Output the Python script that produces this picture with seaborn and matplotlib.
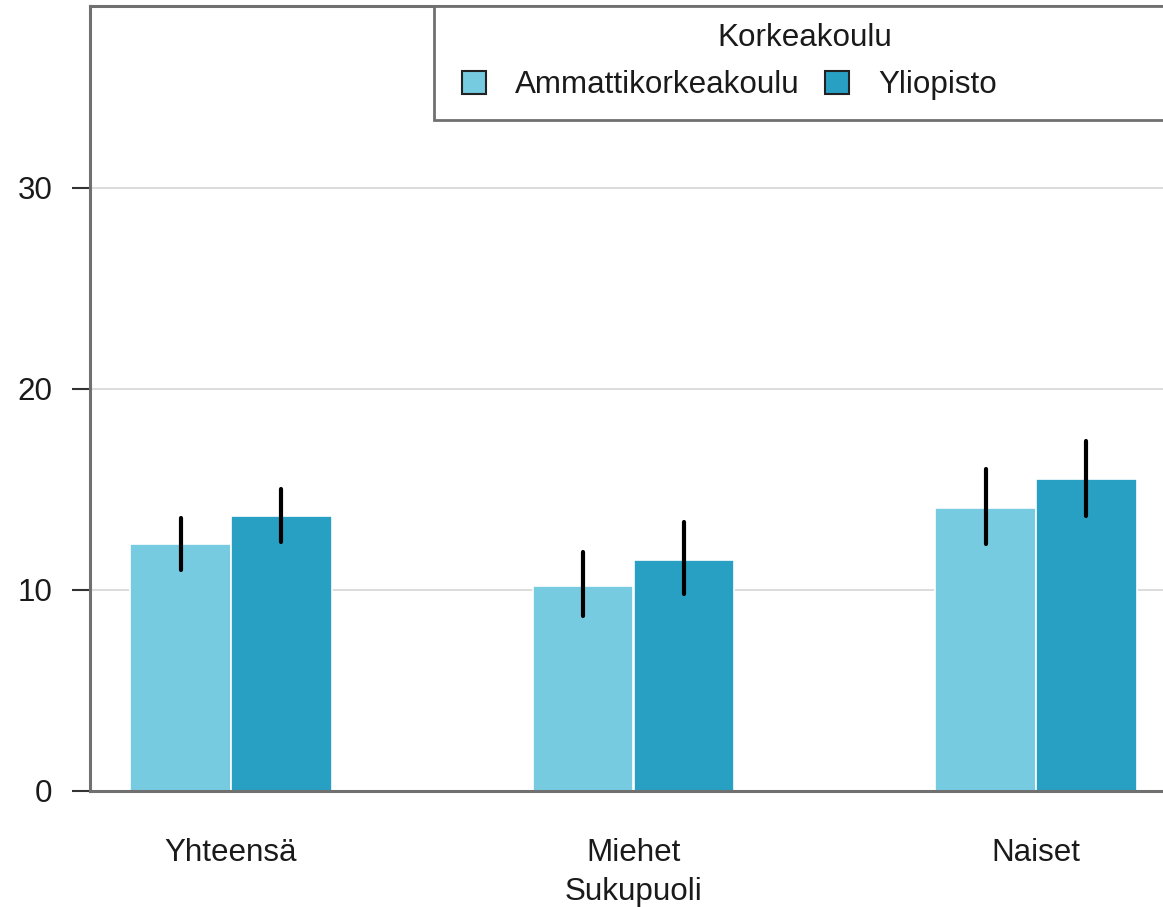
import matplotlib
matplotlib.use("Agg")
import matplotlib.pyplot as plt
from matplotlib.patches import Rectangle
import seaborn as sns
import pandas as pd

# Share (%) by gender and type of higher education institution, with 95 % intervals
sukupuoli = ["Yhteensä", "Miehet", "Naiset"]
korkeakoulu = ["Ammattikorkeakoulu", "Yliopisto"]
amk_arvo = [12.3, 10.2, 14.1]
amk_ala = [11.0, 8.7, 12.3]
amk_yla = [13.6, 11.9, 16.0]
yo_arvo = [13.7, 11.5, 15.5]
yo_ala = [12.4, 9.8, 13.7]
yo_yla = [15.0, 13.4, 17.4]
varit = ["#76CBE1", "#28A0C4"]

df = pd.DataFrame({
    "Sukupuoli": sukupuoli * 2,
    "Korkeakoulu": [korkeakoulu[0]] * 3 + [korkeakoulu[1]] * 3,
    "arvo": amk_arvo + yo_arvo,
    "ala": amk_ala + yo_ala,
    "yla": amk_yla + yo_yla,
})

sns.set_theme(style="white")
plt.rcParams["font.family"] = ["Liberation Sans", "DejaVu Sans"]
FS = 22.6

fig = plt.figure(figsize=(11.63, 9.07), dpi=100)
ax = fig.add_axes([90 / 1163, 116 / 907, 1087 / 1163, 785 / 907])

sns.barplot(data=df, x="Sukupuoli", y="arvo", hue="Korkeakoulu",
            order=sukupuoli, hue_order=korkeakoulu, palette=varit,
            errorbar=None, width=0.5, gap=0, saturation=1,
            edgecolor="white", linewidth=1.2, ax=ax, zorder=2)

# Interval lines centred on each bar
for cont, kk in zip(ax.containers, korkeakoulu):
    sub = df[df["Korkeakoulu"] == kk].set_index("Sukupuoli").loc[sukupuoli]
    for bar, lo, hi in zip(cont.patches, sub["ala"], sub["yla"]):
        xc = bar.get_x() + bar.get_width() / 2
        ax.vlines(xc, lo, hi, color="black", linewidth=3.0,
                  capstyle="round", zorder=3)

ax.set_xlim(-0.35, 2.35)
ax.set_ylim(0, 39.05)
ax.set_yticks([0, 10, 20, 30])
ax.yaxis.grid(True, color="#d9d9d9", linewidth=1.3, zorder=0)
ax.set_axisbelow(True)

for s in ax.spines.values():
    s.set_color("#707070")
    s.set_linewidth(2.2)

ax.tick_params(axis="y", length=13, width=1.5, color="#333333",
               pad=14, labelsize=FS, labelcolor="#1a1a1a", left=True)
ax.tick_params(axis="x", length=0, pad=34, labelsize=FS, labelcolor="#1a1a1a")
ax.set_ylabel("")
ax.set_xlabel("Sukupuoli", fontsize=FS, color="#1a1a1a", labelpad=6)

# Legend: frame, centred title and a single row of entries
handles, labels = ax.get_legend_handles_labels()
ax.get_legend().remove()
box = Rectangle((0.3165, 0.8548), 0.6835, 0.1452, transform=ax.transAxes,
                facecolor="white", edgecolor="#707070", linewidth=2.0,
                zorder=5, clip_on=False)
ax.add_patch(box)
ax.text(0.658, 0.959, "Korkeakoulu", transform=ax.transAxes, ha="center",
        va="center", fontsize=FS, color="#1a1a1a", zorder=6)
leg = ax.legend(handles, labels, ncol=2, frameon=False, loc="center left",
                bbox_to_anchor=(0.3422, 0.899), borderaxespad=0, borderpad=0,
                handlelength=0.76, handleheight=0.76, handletextpad=0.93,
                columnspacing=0.8, fontsize=FS)
leg.set_zorder(7)
for h in leg.legend_handles:
    h.set_edgecolor("#222222")
    h.set_linewidth(1.5)
for t in leg.get_texts():
    t.set_color("#1a1a1a")

fig.savefig("out.png", dpi=100)
